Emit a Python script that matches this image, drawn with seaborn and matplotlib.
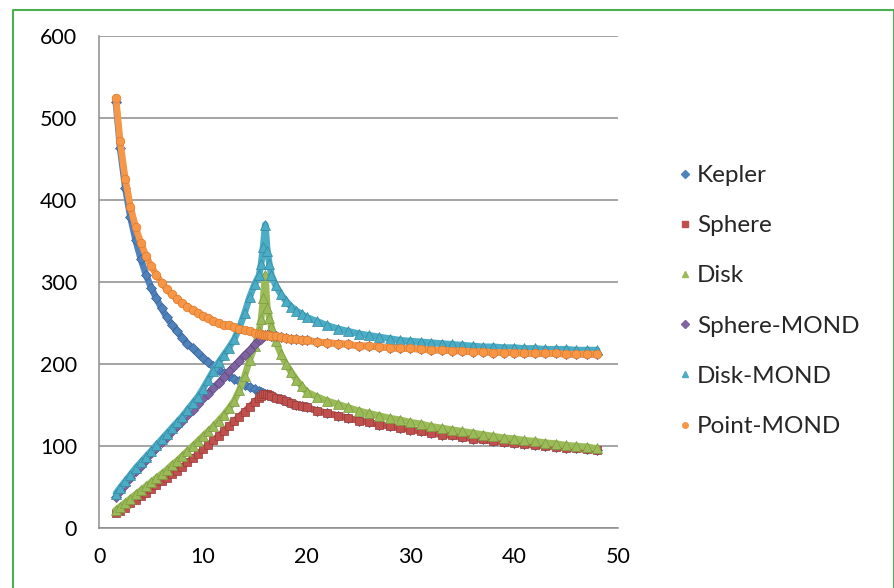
import numpy as np
import pandas as pd
import matplotlib
matplotlib.use("Agg")
import matplotlib.pyplot as plt
from matplotlib.lines import Line2D
import seaborn as sns

# radius grid
radius = [1.6, 2.0, 2.5, 3.0, 3.5, 4.0, 4.5, 5.0, 5.5, 6.0, 6.5, 7.0, 7.5, 8.0, 8.5,
          9.0, 9.5, 10.0, 10.5, 11.0, 11.5, 12.0, 12.5, 13.0, 13.5, 14.0, 14.5, 15.0,
          15.4, 15.6, 15.8, 16.0, 16.2, 16.4, 16.6,
          17.0, 17.5, 18.0, 18.5, 19.0, 19.5, 20.0,
          21, 22, 23, 24, 25, 26, 27, 28, 29, 30, 31, 32, 33, 34, 35, 36, 37, 38,
          39, 40, 41, 42, 43, 44, 45, 46, 47, 48]

kepler = [519, 464, 415, 379, 351, 328, 309, 293, 280, 268, 257, 248, 240, 232, 225,
          219, 213, 207, 202, 198, 193, 189, 186, 182, 179, 175, 172, 169,
          167, 166, 165, 164, 163, 162, 161,
          159, 157, 155, 153, 150, 149, 147,
          143, 140, 137, 134, 131, 129, 126, 124, 122, 120, 118, 116, 114, 113, 111,
          109, 108, 106, 105, 104, 102, 101, 100, 99, 98, 97, 96, 95]

sphere = [18, 21, 25, 30, 34, 39, 43, 48, 52, 57, 61, 66, 70, 75, 80,
          85, 90, 96, 101, 107, 112, 118, 124, 130, 136, 142, 148, 154,
          159, 161, 163, 164, 163, 162, 161,
          159, 157, 155, 153, 150, 149, 147,
          143, 140, 137, 134, 131, 129, 126, 124, 122, 120, 118, 116, 114, 113, 111,
          109, 108, 106, 105, 104, 102, 101, 100, 99, 98, 97, 96, 95]

disk = [22, 26, 31, 36, 41, 46, 51, 56, 61, 66, 71, 77, 82, 88, 94,
        100, 106, 112, 118, 124, 131, 138, 146, 155, 168, 185, 205, 222,
        240, 255, 280, 308, 268, 256, 245,
        228, 212, 200, 190, 181, 173, 166,
        160, 155, 151, 147, 143, 140, 137, 134, 132, 129, 127, 124, 122, 120, 118,
        116, 114, 112, 110, 109, 107, 106, 104, 103, 101, 100, 99, 97]

sphere_mond = [38, 45, 53, 61, 69, 76, 83, 91, 98, 105, 111, 118, 125, 131, 138,
               144, 151, 158, 164, 171, 177, 184, 191, 197, 204, 211, 217, 224,
               229, 231, 234, 236, 235, 235, 234,
               234, 233, 232, 231, 230, 229, 229,
               227, 226, 225, 224, 222, 222, 221, 220, 219, 219, 218, 217, 217, 216, 216,
               215, 215, 214, 214, 214, 213, 213, 213, 213, 212, 212, 212, 212]

disk_mond = [42, 49, 57, 65, 73, 80, 87, 94, 101, 108, 115, 122, 129, 136, 144,
             152, 160, 170, 181, 192, 202, 211, 220, 230, 244, 262, 282, 298,
             308, 322, 343, 370, 338, 322, 308,
             296, 285, 277, 270, 265, 261, 257,
             252, 247, 243, 240, 237, 235, 233, 231, 229, 228, 227, 226, 225, 224, 223,
             222, 221, 221, 220, 220, 219, 219, 218, 218, 218, 217, 217, 217]

point_mond = [525, 472, 426, 392, 367, 348, 332, 319, 309, 299, 291, 285, 279, 274, 270,
              266, 262, 258, 256, 253, 250, 248, 247, 245, 243, 241, 240, 238,
              237, 237, 236, 236, 235, 235, 234,
              234, 233, 232, 231, 230, 229, 229,
              227, 226, 225, 224, 222, 222, 221, 220, 219, 219, 218, 217, 217, 216, 216,
              215, 215, 214, 214, 214, 213, 213, 213, 213, 212, 212, 212, 212]

names = ["Kepler", "Sphere", "Disk", "Sphere-MOND", "Disk-MOND", "Point-MOND"]
colors = ["#4F81BD", "#C0504D", "#9BBB59", "#8064A2", "#4BACC6", "#F79646"]
edges = ["#3A6595", "#9A3A37", "#7A9A40", "#624A82", "#3589A0", "#D97A2E"]
markers = ["D", "s", "^", "D", "^", "o"]
msizes = [5.6, 5.4, 7.0, 5.6, 7.0, 6.2]
x_ticks = [0, 10, 20, 30, 40, 50]
y_ticks = [0, 100, 200, 300, 400, 500, 600]

df = pd.DataFrame({"radius": radius, "Kepler": kepler, "Sphere": sphere, "Disk": disk,
                   "Sphere-MOND": sphere_mond, "Disk-MOND": disk_mond,
                   "Point-MOND": point_mond})

sns.set_style("white")
plt.rcParams["font.family"] = ["Lato", "DejaVu Sans"]

fig = plt.figure(figsize=(8.95, 5.88), dpi=100)
ax = fig.add_axes([0.111, 0.102, 0.5793, 0.8367])

for name, c, e, m, s in zip(names, colors, edges, markers, msizes):
    sns.lineplot(data=df, x="radius", y=name, color=c, marker=m, markersize=s,
                 markeredgecolor=e, markeredgewidth=0.5, linewidth=4.8,
                 sort=False, ax=ax, legend=False)

ax.set_xlim(0, 50)
ax.set_ylim(0, 600)
ax.set_xticks(x_ticks)
ax.set_yticks(y_ticks)
ax.set_xlabel("")
ax.set_ylabel("")
ax.yaxis.grid(True, color="#8c8c8c", linewidth=1.1)
ax.xaxis.grid(False)
ax.set_axisbelow(True)
for side in ["top", "right"]:
    ax.spines[side].set_visible(False)
for side in ["left", "bottom"]:
    ax.spines[side].set_color("#8c8c8c")
    ax.spines[side].set_linewidth(1.1)
ax.tick_params(axis="both", direction="out", length=6, width=1.1, color="#8c8c8c",
               labelsize=15.5, labelcolor="black")
ax.tick_params(axis="y", pad=10)
ax.tick_params(axis="x", pad=8)

handles = [Line2D([], [], ls="none", marker=m, color=c, markersize=4)
           for c, m in zip(colors, markers)]
fig.legend(handles, names, loc="center left", bbox_to_anchor=(0.7435, 0.488),
           frameon=False, fontsize=17.5, labelspacing=1.2, handlelength=0.6,
           handletextpad=0.2, borderpad=0)

# green chart border
fig.add_artist(Line2D([0.0145, 0.0145, 0.9985, 0.9985], [-0.01, 0.983, 0.983, -0.01],
                      transform=fig.transFigure, color="#4CAF50", linewidth=1.5))

fig.savefig("out.png", dpi=100)
